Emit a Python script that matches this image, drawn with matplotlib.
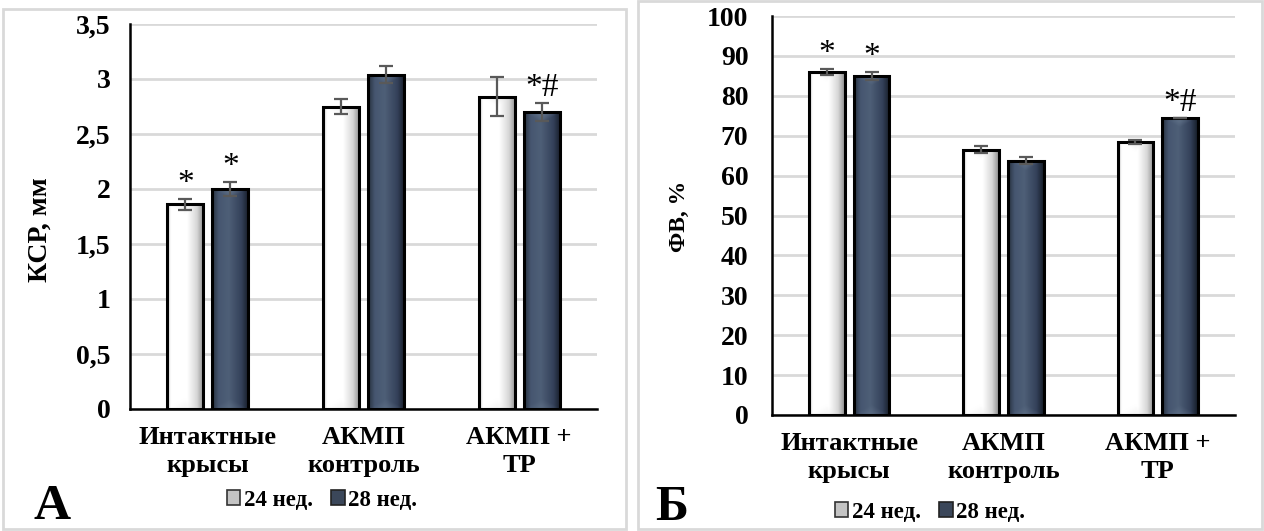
import numpy as np
import matplotlib
matplotlib.use("Agg")
import matplotlib.pyplot as plt
from matplotlib.patches import Patch, Rectangle
from matplotlib.colors import LinearSegmentedColormap, to_rgb

# ---- data ----
categories = ["Интактные\nкрысы", "АКМП\nконтроль", "АКМП +\nТР"]
series_names = ["24 нед.", "28 нед."]

ksr_24 = [1.86, 2.75, 2.84]
ksr_24_err = [0.05, 0.07, 0.18]
ksr_28 = [2.00, 3.04, 2.70]
ksr_28_err = [0.06, 0.08, 0.08]
ksr_marks_24 = ["*", "", ""]
ksr_marks_28 = ["*", "", "*#"]

fv_24 = [86.0, 66.5, 68.5]
fv_24_err = [0.8, 0.9, 0.5]
fv_28 = [85.0, 63.7, 74.5]
fv_28_err = [1.0, 0.9, 0.0]
fv_marks_24 = ["*", "", ""]
fv_marks_28 = ["*", "", "*#"]

ksr_ticks = [0, 0.5, 1, 1.5, 2, 2.5, 3, 3.5]
ksr_ticklabels = ["0", "0,5", "1", "1,5", "2", "2,5", "3", "3,5"]
fv_ticks = list(range(0, 101, 10))

FONT = "Liberation Serif"
plt.rcParams["font.family"] = [FONT, "DejaVu Serif"]
plt.rcParams["font.weight"] = "bold"

W, H = 1264, 531
fig = plt.figure(figsize=(W / 100, H / 100), dpi=100)

white_cmap = LinearSegmentedColormap.from_list(
    "w", [(0, "#c8c8c8"), (0.1, "#ffffff"), (0.55, "#ffffff"), (0.82, "#d6d6d6"), (1, "#8f8f8f")])
dark_cmap = LinearSegmentedColormap.from_list(
    "d", [(0, "#27313f"), (0.18, "#465670"), (0.45, "#4e5f77"), (0.8, "#34415a"), (1, "#161d28")])
white_bevel = np.array(to_rgb("#e6e6e6"))
dark_bevel = np.array(to_rgb("#6b7c93"))


def fig_rect(x0, y0, x1, y1):
    return [x0 / W, 1 - y1 / H, (x1 - x0) / W, (y1 - y0) / H]


def bar_texture(cmap, bevel, rows, cols=64, tri=10):
    """Horizontal shading with a soft bevel at the top and the bottom of the bar."""
    u = np.linspace(0, 1, cols)
    base = np.array(cmap(u))[:, :3]
    img = np.repeat(base[None, :, :], rows, axis=0)
    r = np.arange(rows)[:, None]
    d = np.abs(u - 0.5)[None, :] * 2
    top = np.clip(1 - r / tri - d, 0, 1) * 0.8
    bot = np.clip(1 - (rows - 1 - r) / tri - d, 0, 1) * 0.45
    a = np.maximum(top, bot)[:, :, None]
    return img * (1 - a) + bevel[None, None, :] * a


def shaded_bars(ax, xs, vals, width, cmap, bevel, px_per_unit):
    bars = ax.bar(xs, vals, width, color="white", edgecolor="none", zorder=2)
    for b in bars:
        x0, w, h = b.get_x(), b.get_width(), b.get_height()
        rows = max(int(h * px_per_unit), 2)
        tex = bar_texture(cmap, bevel, rows)
        im = ax.imshow(tex, extent=[x0, x0 + w, 0, h], origin="upper",
                       aspect="auto", zorder=2.2, interpolation="bilinear")
        im.set_clip_path(b)
    ax.bar(xs, vals, width, facecolor="none", edgecolor="black", linewidth=2.2, zorder=3)
    return bars


def panel(ax, v24, e24, v28, e28, m24, m28, ticks, ticklabels, ylim, ypad, px_h):
    x = np.arange(len(categories))
    bw = 0.232
    off = 0.145
    ppu = px_h / (ylim[1] - ylim[0])
    shaded_bars(ax, x - off, v24, bw, white_cmap, white_bevel, ppu)
    shaded_bars(ax, x + off, v28, bw, dark_cmap, dark_bevel, ppu)
    ax.errorbar(x - off, v24, yerr=e24, fmt="none", ecolor="#595959",
                elinewidth=1.6, capsize=5, capthick=1.6, zorder=4)
    ax.errorbar(x + off, v28, yerr=e28, fmt="none", ecolor="#595959",
                elinewidth=1.6, capsize=5, capthick=1.6, zorder=4)
    for xs, vals, errs, marks in ((x - off, v24, e24, m24), (x + off, v28, e28, m28)):
        for xi, v, e, m in zip(xs, vals, errs, marks):
            if m:
                ax.annotate(m, (xi, v + e), xytext=(0, 0), textcoords="offset points",
                            ha="center", va="bottom", fontsize=24,
                            fontweight="normal", family=FONT)
    ax.set_xlim(-0.5, len(categories) - 0.5)
    ax.set_ylim(*ylim)
    ax.set_yticks(ticks)
    ax.set_yticklabels(ticklabels)
    ax.set_xticks(x)
    ax.set_xticklabels(categories)
    ax.tick_params(axis="y", length=0, pad=ypad, labelsize=20)
    ax.tick_params(axis="x", length=0, pad=12, labelsize=19)
    for lab in ax.get_xticklabels():
        lab.set_linespacing(1.3)
    for lab in ax.get_xticklabels() + ax.get_yticklabels():
        lab.set_fontweight("bold")
    ax.grid(axis="y", color="#d9d9d9", linewidth=2, zorder=0)
    ax.set_axisbelow(True)
    for s in ("top", "right"):
        ax.spines[s].set_visible(False)
    ax.spines["left"].set_linewidth(1.8)
    ax.spines["bottom"].set_linewidth(1.8)


# panel frames
for (x0, y0, x1, y1) in [(3, 9, 626, 529), (638, 1, 1262, 529)]:
    fig.patches.append(Rectangle((x0 / W, 1 - y1 / H), (x1 - x0) / W, (y1 - y0) / H,
                                 transform=fig.transFigure, facecolor="none",
                                 edgecolor="#d9d9d9", linewidth=2, zorder=0))

axA = fig.add_axes(fig_rect(130, 24, 597, 409))
panel(axA, ksr_24, ksr_24_err, ksr_28, ksr_28_err, ksr_marks_24, ksr_marks_28,
      ksr_ticks, ksr_ticklabels, (0, 3.5), 14, 409 - 24)
axB = fig.add_axes(fig_rect(772, 16, 1235, 415))
panel(axB, fv_24, fv_24_err, fv_28, fv_28_err, fv_marks_24, fv_marks_28,
      fv_ticks, [str(t) for t in fv_ticks], (0, 100), 17, 415 - 16)

# axis titles
fig.text(40 / W, 1 - 230 / H, "КСР, мм", rotation=90, ha="center", va="center",
         fontsize=20, fontweight="bold")
fig.text(679 / W, 1 - 216 / H, "ФВ, %", rotation=90, ha="center", va="center",
         fontsize=17, fontweight="bold")

# panel letters
fig.text(33 / W, 1 - 519 / H, "А", fontsize=37, fontweight="bold", va="baseline")
fig.text(655 / W, 1 - 520 / H, "Б", fontsize=36, fontweight="bold", va="baseline")

# legends
handles = [Patch(facecolor="#c4c4c4", edgecolor="#333333", linewidth=1.2, label=series_names[0]),
           Patch(facecolor="#3b475a", edgecolor="#222222", linewidth=1.2, label=series_names[1])]
for cx, cy in [(322, 500), (930, 512)]:
    fig.legend(handles=handles, loc="center", bbox_to_anchor=(cx / W, 1 - cy / H),
               ncol=2, frameon=False, handlelength=0.6, handleheight=0.6,
               handletextpad=0.15, columnspacing=0.8,
               prop={"family": FONT, "weight": "bold", "size": 16.5})

fig.savefig("out.png", dpi=100)
